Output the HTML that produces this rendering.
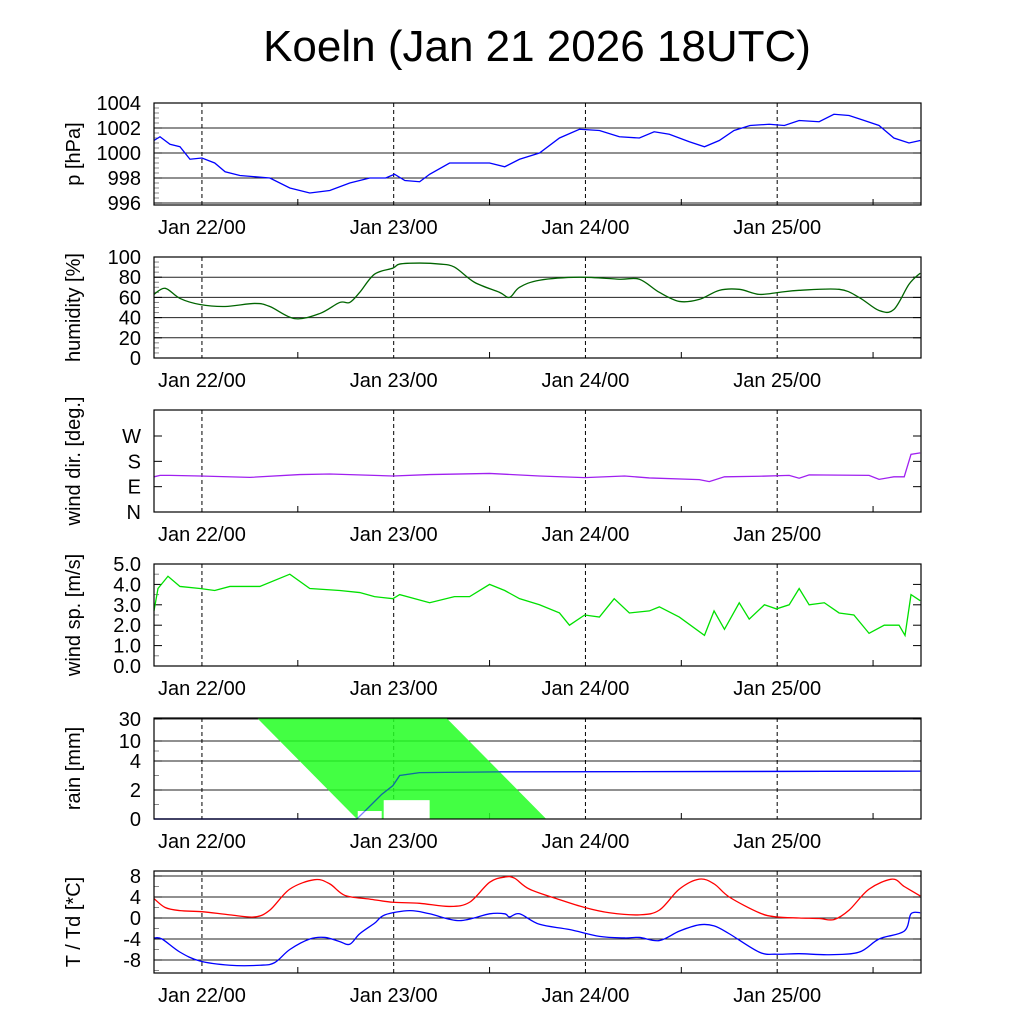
<!DOCTYPE html>
<html><head><meta charset="utf-8"><style>
body{margin:0;background:#fff;}
svg{display:block;font-family:"Liberation Sans",sans-serif;}
</style></head><body>
<svg id="c" width="1024" height="1024" viewBox="0 0 1024 1024">
<text x="537" y="61" font-size="44" text-anchor="middle">Koeln (Jan 21 2026 18UTC)</text>
</svg>
<script>
// ---- data (hours since Jan 21 18UTC) ----
const dayLabels = ["Jan 22/00","Jan 23/00","Jan 24/00","Jan 25/00"];
const dayHours = [6,30,54,78];
const pTime = [0,0.75,2,3.25,4.5,6,7.6,8.9,10.75,14.5,17,19.5,22,24.5,27,29,30.1,31.4,33.25,34.5,37,42,43.9,45.75,48.25,50.75,53.25,55.75,58.25,60.75,62.6,64.5,67,68.9,70.75,72.6,74.6,77,78.9,80.75,83.25,85.1,87,88.9,90.75,92.6,94.5,95.9];
const pVal = [1001.0,1001.3,1000.7,1000.5,999.5,999.6,999.2,998.5,998.2,998.0,997.2,996.8,997.0,997.6,998.0,998.0,998.3,997.8,997.7,998.3,999.2,999.2,998.9,999.5,1000.0,1001.2,1001.9,1001.8,1001.3,1001.2,1001.7,1001.5,1000.9,1000.5,1001.0,1001.8,1002.2,1002.3,1002.2,1002.6,1002.5,1003.1,1003.0,1002.6,1002.2,1001.2,1000.8,1001.0];
const hTime = [0,1.4,3.25,5.75,8.9,12.6,14.5,17.6,20.75,23.25,24.5,25.75,27.6,29.9,30.75,33.25,35.75,37.6,40.1,43.25,44.5,45.75,48.25,53.25,58.25,60.75,63.25,65.75,68.25,70.75,73.25,75.75,78.25,80.75,85.75,88.25,90.75,92.6,94.5,95.9];
const hVal = [63,69,59,53,51,54,51,39,44,55,55,65,83,89,93,94,93,90,75,65,60,70,77,80,78,78,65,56,58,67,68,63,65,67,68,60,47,48,73,84];
const dTime = [0,0.75,2,5.75,12,18.25,22,29.9,34.5,42,48.25,53.9,58.9,62,68.25,69.5,71.4,75.75,79.5,80.75,82,89.5,90.75,92.6,93.9,94.75,95.9];
const dVal = [125,130,130,128,123,133,135,128,133,137,128,122,128,121,115,108,125,127,130,120,132,130,116,125,125,205,210];
const sTime = [0,0.5,1.75,3.25,5.75,7.6,9.5,13.25,17,19.5,23.25,25.75,27.6,29.9,30.75,34.5,37.6,39.5,42,43.9,45.75,48.25,50.75,52,53.9,55.75,57.6,59.5,62,63.25,65.75,68.9,70.1,71.4,73.25,74.5,76.4,77.9,79.5,80.75,82,83.9,85.75,87.6,89.5,91.4,93.25,94,94.75,95.9];
const sVal = [2.7,3.8,4.4,3.9,3.8,3.7,3.9,3.9,4.5,3.8,3.7,3.6,3.4,3.3,3.5,3.1,3.4,3.4,4.0,3.7,3.3,3.0,2.6,2.0,2.5,2.4,3.3,2.6,2.7,2.9,2.4,1.5,2.7,1.8,3.1,2.3,3.0,2.8,3.0,3.8,3.0,3.1,2.6,2.5,1.6,2.0,2.0,1.5,3.5,3.2];
const rTime = [0,25.4,28.5,29.9,30.75,33.25,43,95.9];
const rVal = [0,0,1.7,2.3,3.0,3.2,3.25,3.3];
const rBandTop = [12.9,36.6];
const rBandBottom = [25.4,49.1];
const tTime = [0,1.4,3.25,6,9.5,12.6,14.5,17,20.1,22,23.9,27,29.9,33.25,37,39.5,42,43.9,45.1,47,50.75,53.9,57,60.75,63.25,65.75,68.25,70.1,72,75.75,77.9,80.75,83.25,85.1,87,89.5,92.4,93.9,95.9];
const tVal = [3.7,2,1.4,1.2,0.6,0.2,1.5,5.5,7.3,6.5,4.3,3.6,3.0,2.8,2.2,3.0,6.8,7.8,7.6,5.5,3.5,2.0,1.0,0.6,1.5,5.5,7.4,6.5,4.0,1.0,0.2,0.0,-0.1,-0.3,1.5,5.5,7.4,6.0,4.2];
const tdTime = [0,1,3.25,5.75,9.5,13.25,15.1,17,19.5,21.4,23.25,24.5,25.75,27.6,28.9,32,34.5,38.25,42,43.9,44.5,45.75,48.25,52,55.75,58.9,60.75,63.25,65.75,68.25,70.1,72,75.75,77.9,80.75,84.5,88.25,90.75,93.9,94.75,95.9];
const tdVal = [-3.8,-4,-6.5,-8.2,-9.0,-9.0,-8.5,-6,-4,-3.7,-4.5,-5,-3,-1,0.6,1.4,0.8,-0.5,0.8,0.8,0.2,0.8,-1.2,-2.2,-3.5,-3.8,-3.7,-4.3,-2.5,-1.3,-1.5,-3,-6.5,-6.9,-6.8,-7,-6.5,-4,-2.5,0.8,1.0];

const NS="http://www.w3.org/2000/svg";
const svg=document.getElementById('c');
const X0=154,X1=921;
const xS=h=>X0+h*(X1-X0)/96;
function mk(tag,attrs,parent){const e=document.createElementNS(NS,tag);for(const k in attrs)e.setAttribute(k,attrs[k]);(parent||svg).appendChild(e);return e;}
function lin(v0,v1,y0,y1){return v=>y0+(v-v0)*(y1-y0)/(v1-v0);}
function smoothPath(pts){let d="M"+pts[0][0]+","+pts[0][1];for(let i=0;i<pts.length-1;i++){const p0=pts[i-1]||pts[i],p1=pts[i],p2=pts[i+1],p3=pts[i+2]||p2;const c1x=p1[0]+(p2[0]-p0[0])/6,c1y=p1[1]+(p2[1]-p0[1])/6,c2x=p2[0]-(p3[0]-p1[0])/6,c2y=p2[1]-(p3[1]-p1[1])/6;d+=` C${c1x},${c1y} ${c2x},${c2y} ${p2[0]},${p2[1]}`;}return d;}

function panel(o){
  const g=mk('g',{});
  
  
  o.ticks.forEach((t,i)=>{const y=o.yS(t);
    if(o.grid){const l=mk('line',{x1:X0,x2:X1,y1:y,y2:y,stroke:'#222','stroke-width':1},g);}
    mk('line',{x1:X0,x2:X0+8,y1:y,y2:y,stroke:'#000'},g);mk('line',{x1:X1-8,x2:X1,y1:y,y2:y,stroke:'#000'},g);
    const tx=mk('text',{x:141,y:y+7,'font-size':20,'text-anchor':'end'},g);tx.textContent=o.labels[i];
    
  });
  (o.minor||[]).forEach(t=>{const y=o.yS(t);mk('line',{x1:X0,x2:X0+5,y1:y,y2:y,stroke:'#888'},g);});
  dayHours.forEach((h,i)=>{const x=xS(h);
    mk('line',{x1:x,x2:x,y1:o.top,y2:o.bot,stroke:'#000','stroke-dasharray':'4,3'},g);
    const tx=mk('text',{x:x,y:o.bot+29,'font-size':20,'text-anchor':'middle'},g);tx.textContent=dayLabels[i];
    
  });
  [18,42,66,90].forEach(h=>{const x=xS(h);mk('line',{x1:x,x2:x,y1:o.bot-6,y2:o.bot,stroke:'#000'},g);});
  o.series.forEach(s=>{
    const pts=s.t.map((t,i)=>[xS(t),o.yS(s.v[i])]);
    const p=mk('path',{d:s.smooth?smoothPath(pts):"M"+pts.map(p=>p.join(',')).join(' L'),fill:'none',stroke:s.c,'stroke-width':1.3},g);
    
  });
  if(o.post)o.post(g);
  const b=mk('rect',{x:X0,y:o.top,width:X1-X0,height:o.bot-o.top,fill:'none',stroke:'#000','stroke-width':1.2},g);
  
  const yt=mk('text',{x:0,y:0,'font-size':20,'text-anchor':'middle',transform:`translate(80,${(o.top+o.bot)/2}) rotate(-90)`},g);
  yt.textContent=o.title;
}

panel({name:'pressure',top:103,bot:205,yS:lin(996,1004,203,103),ticks:[996,998,1000,1002,1004],labels:['996','998','1000','1002','1004'],minor:[996.4,996.8,997.2,997.6,998.4,998.8,999.2,999.6,1000.4,1000.8,1001.2,1001.6,1002.4,1002.8,1003.2,1003.6],grid:true,title:'p [hPa]',series:[{t:pTime,v:pVal,c:'#0000ff',n:'pressure-line'}]});
panel({name:'humidity',top:257,bot:358,yS:lin(0,100,358,257),ticks:[0,20,40,60,80,100],labels:['0','20','40','60','80','100'],minor:[5,10,15,25,30,35,45,50,55,65,70,75,85,90,95],grid:true,title:'humidity [%]',series:[{t:hTime,v:hVal,c:'#006400',n:'humidity-line',smooth:true}]});
panel({name:'wind-direction',top:410,bot:512,yS:lin(0,270,512,436),ticks:[0,90,180,270],labels:['N','E','S','W'],grid:false,title:'wind dir. [deg.]',series:[{t:dTime,v:dVal,c:'#a020f0',n:'wind-direction-line'}]});
panel({name:'wind-speed',top:564,bot:666,yS:lin(0,5,666,564),ticks:[0,1,2,3,4,5],labels:['0.0','1.0','2.0','3.0','4.0','5.0'],minor:[0.5,1.5,2.5,3.5,4.5],grid:false,title:'wind sp. [m/s]',series:[{t:sTime,v:sVal,c:'#00e000',n:'wind-speed-line'}]});
const rTicks=[0,2,4,10,30], rTickY=[819,790,761,741,719];
function rainY(v){for(let i=0;i<rTicks.length-1;i++){if(v<=rTicks[i+1]||i==rTicks.length-2){return rTickY[i]+(v-rTicks[i])*(rTickY[i+1]-rTickY[i])/(rTicks[i+1]-rTicks[i]);}}}
panel({name:'rain',top:718,bot:819,yS:rainY,ticks:rTicks,labels:['0','2','4','10','30'],minor:[1,3,7],grid:true,title:'rain [mm]',series:[{t:rTime,v:rVal,c:'#0000ff',n:'rain-accumulation-line',smooth:false}],
 post:g=>{const p=mk('polygon',{points:`${xS(rBandTop[0])},718 ${xS(rBandTop[1])},718 ${xS(rBandBottom[1])},819 ${xS(rBandBottom[0])},819`,fill:'#22ff22','fill-opacity':0.85},g);
  
  mk('rect',{x:xS(25.5),y:rainY(0.55),width:xS(28.5)-xS(25.5),height:819-rainY(0.55),fill:'#fff'},g);
  mk('rect',{x:xS(28.75),y:rainY(1.3),width:xS(34.5)-xS(28.75),height:819-rainY(1.3),fill:'#fff'},g);
  const pts=rTime.map((t,i)=>[xS(t),rainY(rVal[i])]);
  mk('path',{d:"M"+pts.map(p=>p.join(',')).join(' L'),fill:'none',stroke:'#0000ff','stroke-width':1.3,'stroke-opacity':0.5},g);
 }});
panel({name:'temperature',top:871,bot:973,yS:lin(0,8,918,876),ticks:[-8,-4,0,4,8],labels:['-8','-4','0','4','8'],minor:[-10,-6,-2,2,6],grid:true,title:'T / Td [*C]',series:[{t:tTime,v:tVal,c:'#ff0000',n:'temperature-line',smooth:true},{t:tdTime,v:tdVal,c:'#0000ff',n:'dewpoint-line',smooth:true}]});
</script>
</body></html>
